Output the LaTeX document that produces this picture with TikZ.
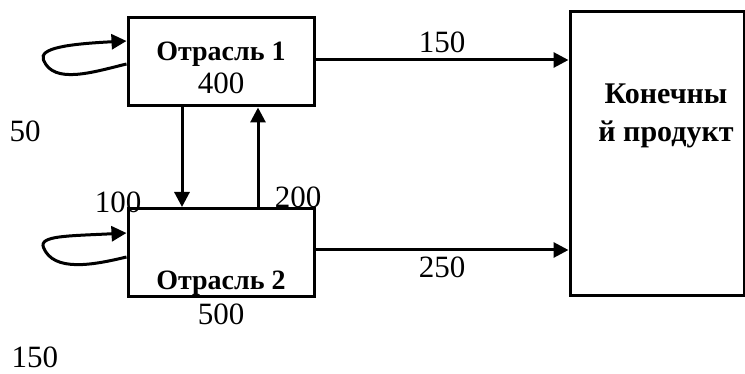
\documentclass[tikz,border=0pt]{standalone}
\usepackage{fontspec}
\setmainfont{Liberation Serif}
\usetikzlibrary{arrows.meta}
\tikzset{
  box/.style={draw, line width=3pt, minimum width=186pt, minimum height=88pt, inner sep=0pt},
  flow/.style={line width=3pt, -{Triangle[length=15pt,width=15pt]}},
  lbl/.style={font=\fontsize{31}{34}\selectfont, inner sep=0pt, anchor=base},
  blbl/.style={font=\fontsize{28}{38}\selectfont\bfseries, inner sep=0pt, anchor=base, align=center}
}
\begin{document}
\begin{tikzpicture}[x=1pt,y=-1pt]
\useasboundingbox (0,0) rectangle (745,374);

%branches
\node[box] (otr1) at (221,62) {};
\node[box] (otr2) at (221,252.5) {};
%final product
\node[box, minimum width=174pt, minimum height=284pt] (fin) at (657,154) {};

%texts in boxes
\node[blbl] (name1) at (221,61) {Отрасль 1};
\node[lbl] (out1) at (221,94) {400};
\node[blbl] (name2) at (221,290) {Отрасль 2};
\node[lbl] (out2) at (221,324) {500};
\node[blbl, font=\fontsize{30}{38}\selectfont\bfseries, anchor=north] (namefin) at (666,84) {Конечны\\й продукт};

% loose numbers
\node[lbl] (own1) at (25,142) {50};
\node[lbl] (own2) at (35,367) {150};
\node[lbl] (v12) at (118,213) {100};
\node[lbl] (v21) at (298,208) {200};

% self loops
\draw[flow] ([yshift=-2pt]otr1.west) .. controls +(-33,8) and +(10,25) ..
  ([shift={(-83,-2)}]otr1.west) .. controls +(-5,-12) and +(-58,3) ..
  ([yshift=21pt]otr1.west);
\draw[flow] ([yshift=-4.5pt]otr2.west) .. controls +(-33,8) and +(10,25) ..
  ([shift={(-83,-5)}]otr2.west) .. controls +(-5,-12) and +(-58,3) ..
  ([yshift=19.5pt]otr2.west);

% between branches
\draw[flow] ([xshift=-39pt]otr1.south) -- ([xshift=-39pt]otr2.north);
\draw[flow] ([xshift=37pt]otr2.north) -- ([xshift=37pt]otr1.south);

% to final product
\draw[flow] ([yshift=2pt]otr1.east) -- ([yshift=2pt]otr1.east -| fin.west)
  node[lbl, midway, yshift=7pt] (f1) {150};
\draw[flow] ([yshift=2.5pt]otr2.east) -- ([yshift=2.5pt]otr2.east -| fin.west)
  node[lbl, midway, yshift=-28pt] (f2) {250};

\end{tikzpicture}
\end{document}
